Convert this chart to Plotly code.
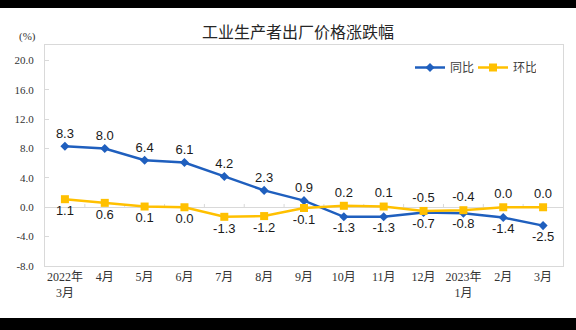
import plotly.graph_objects as go

# ---- data ----
categories = ["2022年<br>3月", "4月", "5月", "6月", "7月", "8月", "9月",
              "10月", "11月", "12月", "2023年<br>1月", "2月", "3月"]
yoy = [8.3, 8.0, 6.4, 6.1, 4.2, 2.3, 0.9, -1.3, -1.3, -0.7, -0.8, -1.4, -2.5]   # 同比
mom = [1.1, 0.6, 0.1, 0.0, -1.3, -1.2, -0.1, 0.2, 0.1, -0.5, -0.4, 0.0, 0.0]    # 环比
y_ticks = [-8, -4, 0, 4, 8, 12, 16, 20]
y_ticktext = [f"{v:.1f}" for v in y_ticks]

x_idx = list(range(len(categories)))

W, H = 576, 330
L, R, T, B = 45, 13, 45, 64
pw, ph = W - L - R, H - T - B

def px_x(px):
    return (px - L) / pw

def px_y(py):
    return (H - B - py) / ph

BLUE = "#1F5FBE"
YELLOW = "#FFC000"
GRID = "#D9D9D9"
CJK = "Noto Sans CJK SC"

yoy_pos = ["top center" if v > 0.5 else "bottom center" for v in yoy[:7]] + ["bottom center"] * (len(yoy) - 7)
mom_pos = ["bottom center"] * 7 + ["top center"] * (len(mom) - 7)

fig = go.Figure()
fig.add_trace(go.Scatter(
    x=x_idx, y=yoy, name="同比", mode="lines+markers+text",
    line=dict(color=BLUE, width=2.5),
    marker=dict(symbol="diamond", size=7, color=BLUE),
    text=[f"{v:.1f}" for v in yoy], textposition=yoy_pos,
    textfont=dict(family="Liberation Sans, Arial", size=13, color="#1a1a1a"),
    cliponaxis=False,
))
fig.add_trace(go.Scatter(
    x=x_idx, y=mom, name="环比", mode="lines+markers+text",
    line=dict(color=YELLOW, width=2.5),
    marker=dict(symbol="square", size=8, color=YELLOW),
    text=[f"{v:.1f}" for v in mom], textposition=mom_pos,
    textfont=dict(family="Liberation Sans, Arial", size=13, color="#1a1a1a"),
    cliponaxis=False,
))

shapes = []
# small tick marks on the zero line between categories
for i in range(len(categories) - 1):
    shapes.append(dict(type="line", xref="x", yref="y", x0=i + 0.5, x1=i + 0.5,
                       y0=-0.1, y1=0.45, line=dict(color=GRID, width=1), layer="below"))
# letterbox bands
shapes.append(dict(type="rect", xref="paper", yref="paper",
                   x0=px_x(0), x1=px_x(W), y0=px_y(0), y1=px_y(8),
                   fillcolor="black", line=dict(width=0), layer="above"))
shapes.append(dict(type="rect", xref="paper", yref="paper",
                   x0=px_x(0), x1=px_x(W), y0=px_y(318), y1=px_y(H),
                   fillcolor="black", line=dict(width=0), layer="above"))

fig.update_layout(
    width=W, height=H,
    margin=dict(l=L, r=R, t=T, b=B, autoexpand=False),
    paper_bgcolor="white", plot_bgcolor="white",
    title=dict(text="工业生产者出厂价格涨跌幅", x=298 / W, xanchor="center",
               y=1 - 32 / H, yanchor="middle",
               font=dict(family=CJK, size=16, color="#262626")),
    showlegend=True,
    legend=dict(orientation="h", x=px_x(410), xanchor="left", y=px_y(67.5), yanchor="middle",
                font=dict(family=CJK, size=12, color="#404040"),
                bgcolor="rgba(0,0,0,0)", borderwidth=0, entrywidth=18, itemwidth=30),
    xaxis=dict(range=[-0.5, len(categories) - 0.5], tickmode="array", tickvals=x_idx,
               ticktext=categories, showgrid=False, zeroline=False,
               showline=True, linecolor=GRID, linewidth=1, mirror=True, ticks="",
               tickfont=dict(family="Liberation Serif, " + CJK, size=12, color="#333333")),
    yaxis=dict(range=[-8, 22.1], tickmode="array", tickvals=y_ticks, ticktext=y_ticktext,
               showgrid=False, zeroline=True, zerolinecolor=GRID, zerolinewidth=1,
               showline=True, linecolor=GRID, linewidth=1, mirror=True,
               ticks="inside", ticklen=4, tickcolor=GRID, ticklabelstandoff=8,
               tickfont=dict(family="Liberation Serif", size=11, color="#333333")),
    shapes=shapes,
    annotations=[dict(text="(%)", xref="paper", yref="paper", x=px_x(27), y=px_y(37),
                      xanchor="center", yanchor="middle", showarrow=False,
                      font=dict(family="Liberation Serif", size=11, color="#333333"))],
)

fig.write_html("out.html")
